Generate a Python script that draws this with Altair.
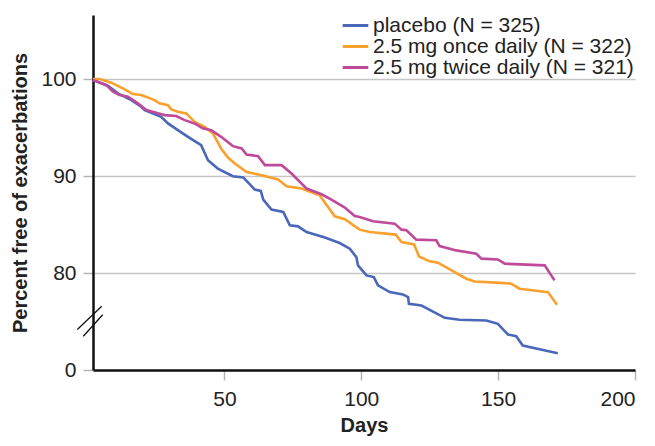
import altair as alt
import pandas as pd

# ---- data (days, percent free of exacerbations) ----
placebo_days = [2, 7.5, 11.1, 16.0, 19.6, 20.9, 26.9, 29.4, 33.0, 36.7, 41.5, 44.0, 47.6, 53.1,
                56.9, 61.1, 63.3, 64.2, 67.2, 71.5, 73.9, 76.9, 80.0, 86.7, 92.1, 95.8, 98.2,
                98.8, 101.9, 104.6, 106.1, 110.4, 115.2, 117.1, 117.4, 122.0, 130.5, 135.9,
                145.7, 149.9, 152.4, 153.6, 156.6, 159.0, 171.8]
placebo_pct = [99.9, 99.28, 98.52, 97.83, 97.14, 96.80, 96.11, 95.42, 94.73, 94.04, 93.18, 91.63,
               90.77, 89.98, 89.85, 88.6, 88.46, 87.57, 86.54, 86.29, 84.92, 84.81, 84.23, 83.65,
               83.09, 82.51, 81.64, 80.79, 79.75, 79.58, 78.72, 78.03, 77.79, 77.51, 76.83, 76.65,
               75.38, 75.18, 75.10, 74.76, 74.0, 73.66, 73.48, 72.52, 71.72]

once_days = [2, 4.4, 8.7, 13.6, 16.6, 19.6, 24.5, 26.3, 29.4, 30.6, 33.0, 36.1, 39.1, 42.8, 45.8,
             48.8, 51.3, 53.8, 58.1, 63.6, 69.6, 72.7, 78.2, 84.8, 90.3, 94.0, 99.4, 103.1, 112.6,
             114.7, 119.3, 121.1, 125.0, 128.0, 138.4, 141.4, 152.4, 154.8, 157.8, 168.2, 171.5]
once_pct = [100, 100, 99.62, 98.94, 98.45, 98.35, 97.83, 97.49, 97.31, 96.87, 96.62, 96.46, 95.59,
            95.07, 94.39, 92.84, 91.91, 91.29, 90.42, 90.08, 89.64, 88.95, 88.71, 88.02, 85.85,
            85.54, 84.47, 84.23, 83.96, 83.19, 82.95, 81.71, 81.2, 81.06, 79.41, 79.13, 78.96,
            78.9, 78.38, 78.03, 76.73]

twice_days = [2, 6.9, 9.3, 11.7, 14.8, 18.4, 21.5, 25.7, 28.2, 32.4, 35.5, 39.1, 42.1, 45.2, 48.8,
              53.1, 56.3, 58.1, 62.3, 64.8, 70.9, 74.5, 80.0, 85.5, 89.1, 94.0, 97.6, 99.4, 104.3,
              112.2, 114.7, 116.5, 120.1, 127.4, 128.6, 134.7, 142.0, 143.9, 149.9, 152.4, 167.0,
              170.6]
twice_pct = [99.9, 99.38, 98.69, 98.35, 98.17, 97.49, 96.80, 96.46, 96.28, 96.18, 95.76, 95.42,
             94.91, 94.73, 94.04, 93.08, 92.84, 92.22, 92.05, 91.12, 91.12, 90.26, 88.71, 88.12,
             87.57, 86.75, 85.88, 85.78, 85.33, 85.09, 84.47, 84.40, 83.44, 83.37, 82.78, 82.33,
             81.99, 81.48, 81.40, 80.96, 80.79, 79.24]

series_names = ["placebo (N = 325)", "2.5 mg once daily (N = 322)", "2.5 mg twice daily (N = 321)"]
series_colors = ["#4a67b9", "#f9a02d", "#bf4a9a"]

y_ticks = [70, 80, 90, 100]          # 70 sits where the broken axis shows "0"
x_ticks = [50, 100, 150, 200]

# axis-break marks (two short slashes across the y axis)
break_x = [-3.73, -1.54]
break_x2 = [5.18, 5.54]
break_y = [74.17, 73.48]
break_y2 = [76.58, 75.69]

rows = []
for name, days, pct in [(series_names[0], placebo_days, placebo_pct),
                        (series_names[1], once_days, once_pct),
                        (series_names[2], twice_days, twice_pct)]:
    for i, (d, p) in enumerate(zip(days, pct)):
        rows.append({"series": name, "day": d, "pct": p, "order": i})
df = pd.DataFrame(rows)

breaks = pd.DataFrame({"x": break_x, "x2": break_x2, "y": break_y, "y2": break_y2})

FONT = "Liberation Sans"

x_scale = alt.Scale(domain=[2, 200], nice=False, zero=False)
y_scale = alt.Scale(domain=[70, 106.6], nice=False, zero=False)

lines = alt.Chart(df).mark_line(strokeWidth=2.6, clip=False).encode(
    x=alt.X("day:Q", scale=x_scale,
            axis=alt.Axis(title="Days", values=x_ticks, grid=False,
                          domainColor="#111111", domainWidth=2.5,
                          tickColor="#b5b5b5", tickWidth=1.5, tickSize=10,
                          labelFontSize=21, labelPadding=8, labelColor="#222222",
                          titleFontSize=20, titleFontWeight="bold", titlePadding=6,
                          titleColor="#222222", labelFont=FONT, titleFont=FONT,
                          labelOverlap=False)),
    y=alt.Y("pct:Q", scale=y_scale,
            axis=alt.Axis(title="Percent free of exacerbations", values=y_ticks,
                          labelExpr="datum.value == 70 ? '0' : datum.label",
                          grid=True, gridColor="#c6c6c6", gridWidth=1.5,
                          domainColor="#111111", domainWidth=2.5,
                          tickColor="#b5b5b5", tickWidth=1.5, tickSize=10,
                          labelFontSize=21, labelPadding=7, labelColor="#222222",
                          titleFontSize=20, titleFontWeight="bold", titlePadding=10,
                          titleColor="#222222", labelFont=FONT, titleFont=FONT)),
    color=alt.Color("series:N", scale=alt.Scale(domain=series_names, range=series_colors),
                    legend=alt.Legend(title=None, orient="none", legendX=252, legendY=0,
                                      symbolType="M-2,0H2", symbolStrokeWidth=3,
                                      symbolSize=164, labelFontSize=21, labelFont=FONT,
                                      labelColor="#222222", labelOffset=7, labelLimit=0,
                                      padding=0, rowPadding=-1)),
    order="order:Q",
)

break_marks = alt.Chart(breaks).mark_rule(color="#111111", strokeWidth=1.3, clip=False).encode(
    x="x:Q", x2="x2:Q", y="y:Q", y2="y2:Q"
)

chart = alt.layer(lines, break_marks).properties(
    width=542, height=355,
    autosize=alt.AutoSizeParams(type="none"),
    padding={"left": 85, "top": 7, "right": 12, "bottom": 68},
).configure_view(stroke=None)

chart.save("out.html", embed_options={"renderer": "svg", "actions": False})
